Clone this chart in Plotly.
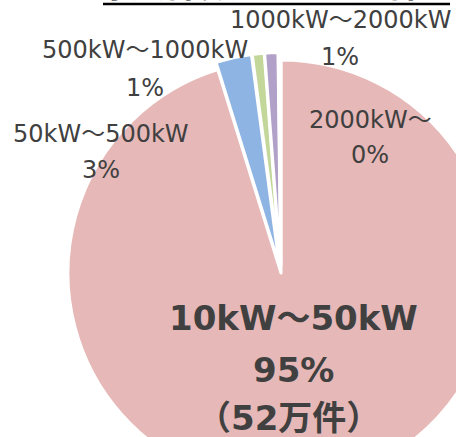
import plotly.graph_objects as go

# ---- data ----
categories = ["10kW～50kW", "50kW～500kW", "500kW～1000kW", "1000kW～2000kW", "2000kW～"]
shares = [95.2, 2.7, 0.9, 1.0, 0.2]          # percent of installations
count_main = "（52万件）"
title_text = "導入件数（全55万件）"

# ---- styles / layout ----
colors = ["#E6B8B7", "#8EB4E3", "#C4D79B", "#B1A0C7", "#92CDDC"]
pulls = [0, 0.035, 0.035, 0.035, 0.035]
W, H = 520, 510
cx, cy, R = 281, 273, 213          # pie centre / radius in pixels
maxp = max(pulls)
half = R * (1 + maxp)
dom_x = [(cx - half) / W, (cx + half) / W]
dom_y = [1 - (cy + half) / H, 1 - (cy - half) / H]

fig = go.Figure(go.Pie(
    labels=categories, values=shares, sort=False, direction="clockwise",
    rotation=0, pull=pulls, textinfo="none", hoverinfo="label+percent",
    marker=dict(colors=colors, line=dict(color="white", width=3)),
    domain=dict(x=dom_x, y=dom_y), showlegend=False,
))

font_fam = "DejaVu Sans, Noto Sans CJK JP, sans-serif"
txt_col = "#404040"
pct = [f"{round(v)}%" for v in shares]

# label line positions (pixels): (x, y_name, y_pct)
small_pos = {1: (101, 134, 170), 2: (145, 50, 88), 3: (340, 20, 57), 4: (370, 120, 155)}

ann = []
def add(text, x, y, size, bold=False, fam=font_fam):
    ann.append(dict(text=(f"<b>{text}</b>" if bold else text), x=x / W, y=1 - y / H,
                    xref="paper", yref="paper", xanchor="center", yanchor="middle",
                    showarrow=False, font=dict(family=fam, size=size, color=txt_col)))

for i, (x, yn, yp) in small_pos.items():
    add(categories[i], x, yn, 24)
    add(pct[i], x, yp, 24)

add(categories[0], 293, 318, 34, bold=True)
add(pct[0], 293, 370, 34, bold=True)
add(count_main, 288, 418, 34, bold=True)

# title, mostly cut off at the top edge
ann.append(dict(text=f"<b>{title_text}</b>", x=276 / W, y=1 - 9 / H, xref="paper", yref="paper",
                xanchor="center", yanchor="bottom", showarrow=False,
                font=dict(family="Noto Sans CJK JP, sans-serif", size=36, color="#000000")))

fig.update_layout(
    width=W, height=H, margin=dict(l=0, r=0, t=0, b=0),
    paper_bgcolor="white", plot_bgcolor="white",
    annotations=ann,
    shapes=[dict(type="line", xref="paper", yref="paper", x0=103 / W, x1=450 / W,
                 y0=1 - 4 / H, y1=1 - 4 / H, line=dict(color="#000000", width=2.5))],
)

fig.write_html("out.html", post_script=(
    "document.body.style.margin='0';"
    "document.body.style.overflow='hidden';"
    "document.documentElement.style.overflow='hidden';"))
